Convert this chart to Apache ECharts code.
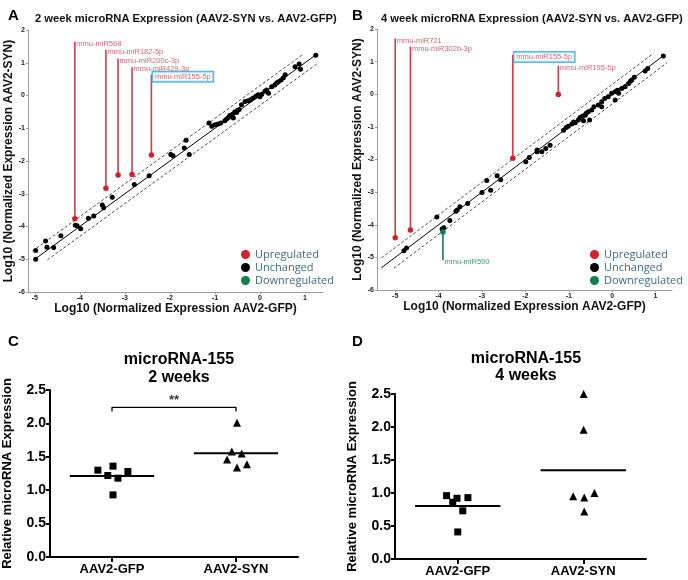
<!DOCTYPE html>
<html><head><meta charset="utf-8">
<script src="https://cdn.jsdelivr.net/npm/echarts@6/dist/echarts.min.js"></script>
<style>html,body{margin:0;padding:0;background:#fff}#c{width:688px;height:580px}</style>
</head><body><div id="c"></div>
<script>
// ---------- Panel A (2 weeks) ----------
const unchanged2wk = [[-4.98,-4.73],[-4.98,-5.0],[-4.76,-4.44],[-4.73,-4.63],[-4.58,-4.64],[-4.42,-4.28],[-4.1,-3.96],[-4.06,-3.98],[-3.98,-4.07],[-3.81,-3.75],[-3.69,-3.68],[-3.5,-3.34],[-3.47,-3.43],[-3.28,-3.11],[-2.79,-2.72],[-2.46,-2.45],[-1.98,-1.8],[-1.93,-1.84],[-1.64,-1.37],[-1.68,-1.6],[-1.57,-1.8],[-1.13,-0.84],[-1.07,-0.94],[-1.0,-0.89],[-0.93,-0.87],[-0.87,-0.84],[-0.78,-0.77],[-0.7,-0.67],[-0.67,-0.61],[-0.61,-0.57],[-0.56,-0.5],[-0.5,-0.46],[-0.46,-0.43],[-0.59,-0.69],[-0.41,-0.28],[-0.33,-0.18],[-0.26,-0.16],[-0.15,-0.08],[-0.09,-0.02],[-0.04,0.02],[0.04,0.04],[0.11,0.13],[0.15,0.17],[0.19,0.07],[0.26,0.27],[0.33,0.32],[0.41,0.42],[0.47,0.47],[0.52,0.54],[0.56,0.63],[0.78,0.88],[0.87,0.96],[0.9,0.8],[1.24,1.23],[-0.74,-0.72],[-0.52,-0.52],[-0.2,-0.12],[0.0,-0.04],[0.37,0.38]];
const upNames2wk = ['mmu-miR568','mmu-miR182-5p','mmu-miR200c-3p','mmu-miR429-3p','mmu-miR155-5p'];
const upX2wk = [-4.11,-3.42,-3.15,-2.84,-2.41];
const upY2wk = [-3.76,-2.83,-2.43,-2.41,-1.82];
const upLabelY2wk = [1.64,1.4,1.13,0.86,0.63];
const fit2wk = {solid:[-5.0,1.25], upper:[-5.05,0.95], lower:[-4.72,1.3]};

// ---------- Panel B (4 weeks) ----------
const unchanged4wk = [[-4.8,-4.8],[-4.74,-4.71],[-4.04,-3.76],[-3.92,-4.13],[-3.88,-4.09],[-3.74,-3.87],[-3.6,-3.59],[-3.57,-3.55],[-3.51,-3.45],[-3.33,-3.35],[-3.0,-3.01],[-2.89,-2.64],[-2.8,-2.94],[-2.65,-2.5],[-2.57,-2.62],[-1.99,-2.07],[-1.91,-1.94],[-1.73,-1.76],[-1.73,-1.71],[-1.62,-1.76],[-1.53,-1.66],[-1.43,-1.56],[-1.12,-1.1],[-1.06,-1.02],[-1.01,-0.98],[-0.93,-0.91],[-0.85,-0.87],[-0.78,-0.79],[-0.74,-0.71],[-0.68,-0.67],[-0.62,-0.64],[-0.66,-0.81],[-0.55,-0.54],[-0.47,-0.48],[-0.52,-0.79],[-0.42,-0.38],[-0.32,-0.33],[-0.24,-0.23],[-0.17,-0.13],[-0.09,-0.08],[-0.01,0.03],[0.07,0.08],[0.15,0.03],[0.22,0.18],[0.3,0.23],[0.38,0.33],[0.45,0.44],[0.51,0.52],[0.76,0.71],[0.82,0.79],[-0.24,-0.38],[0.07,-0.18],[1.18,1.17],[-0.89,-0.85],[-0.6,-0.58],[0.12,0.12],[0.42,0.4]];
const upNames4wk = ['mmu-miR721','mmu-miR302b-3p','mmu-miR155-5p','mmu-miR195-5p'];
const upX4wk = [-5.0,-4.65,-2.29,-1.24];
const upY4wk = [-4.4,-4.16,-1.96,-0.01];
const upLabelY4wk = [1.71,1.46,1.2,0.87];
const downNames4wk = ['mmu-miR590'];
const downX4wk = [-3.9];
const downY4wk = [-4.22];
const downLabelY4wk = [-5.09];
const fit4wk = {solid:[-5.32,1.2], upper:[-5.32,0.95], lower:[-5.03,1.27]};
const foldOffset = 0.3;
const highlighted = 'mmu-miR155-5p';

// ---------- Panels C / D ----------
const groups = ['AAV2-GFP','AAV2-SYN'];
const gfp2wk = [1.30,1.36,1.22,1.18,1.28,0.93];
const gfp2wkJitter = [-0.114,0.008,-0.034,0.048,0.128,0.008];
const syn2wk = [2.01,1.58,1.55,1.46,1.34,1.39];
const syn2wkJitter = [0.008,-0.034,0.046,-0.072,0.008,0.088];
const gfp4wk = [0.96,0.92,0.93,0.86,0.73,0.41];
const gfp4wkJitter = [-0.089,-0.006,0.081,-0.04,0.04,0];
const syn4wk = [2.5,1.96,0.95,0.93,1.0,0.72];
const syn4wkJitter = [0.003,0.003,-0.08,0.008,0.089,0.008];
const sigC = {y:2.24, drop:0.06, text:'**'};

const RED='#d2202c', GREEN='#12804c', LABRED='#c9404a', CYAN='#27a9dc';
const F='Liberation Sans, Arial, sans-serif';

const mean = a => a.reduce((s,v)=>s+v,0)/a.length;

function scatterAxes(gi, xmin, xmax){
  const common = {
    gridIndex: gi, type:'value', splitLine:{show:false},
    axisLine:{show:true, onZero:false, lineStyle:{color:'#9c9c9c', width:1}},
    axisTick:{show:true, length:2, lineStyle:{color:'#9c9c9c'}},
    axisLabel:{fontSize:7, fontWeight:'bold', color:'#222', fontFamily:F, margin:3},
    nameLocation:'middle',
    nameTextStyle:{fontSize:12, fontWeight:'bold', color:'#111', fontFamily:F}
  };
  const ticks=[-5,-4,-3,-2,-1,0,1];
  const x = Object.assign({}, common, {min:xmin, max:xmax, name:'Log10 (Normalized Expression AAV2-GFP)', nameGap:11,
    axisTick:Object.assign({}, common.axisTick, {customValues:ticks}),
    axisLabel:Object.assign({}, common.axisLabel, {customValues:ticks})});
  const y = Object.assign({}, common, {min:-6, max:2, interval:1, name:'Log10 (Normalized Expression AAV2-SYN)', nameGap:13});
  return [x,y];
}
function dotAxes(gi){
  const x = {gridIndex:gi, type:'value', min:-0.5, max:1.5, splitLine:{show:false},
    axisLine:{show:true, onZero:false, lineStyle:{color:'#000', width:2}},
    axisTick:{show:true, length:5, customValues:[0,1], lineStyle:{color:'#000', width:2}},
    axisLabel:{customValues:[0,1], formatter:v=>groups[Math.round(v)], fontSize:13, fontWeight:'bold', color:'#000', fontFamily:F, margin:6}};
  const y = {gridIndex:gi, type:'value', min:0, max:2.5, interval:0.5, splitLine:{show:false},
    axisLine:{show:true, onZero:false, lineStyle:{color:'#000', width:2}},
    axisTick:{show:true, length:4, lineStyle:{color:'#000', width:2}},
    axisLabel:{fontSize:14, fontWeight:'bold', color:'#000', fontFamily:F, margin:4, formatter:v=>v.toFixed(1)},
    name:'Relative microRNA Expression', nameLocation:'middle', nameGap:36,
    nameTextStyle:{fontSize:13, fontWeight:'bold', color:'#000', fontFamily:F}};
  return [x,y];
}

const [xa,ya] = scatterAxes(0,-5.15,1.4);
const [xb,yb] = scatterAxes(1,-5.42,1.38);
const [xc,yc] = dotAxes(2);
const [xd,yd] = dotAxes(3);

const series = [];
function fitLines(gi, fit){
  const mk = (r, off, dashed) => ({type:'line', xAxisIndex:gi, yAxisIndex:gi, silent:true, showSymbol:false, symbol:'none',
    data: r.map(x=>[x, x+off]), lineStyle:{color:'#000', width: dashed?0.7:1, type: dashed?[3,2]:'solid'}, z:1});
  series.push(mk(fit.solid,0,false), mk(fit.upper,foldOffset,true), mk(fit.lower,-foldOffset,true));
}
function stems(gi, names, xs, ys, tops, color){
  names.forEach((n,i)=>{
    series.push({type:'line', xAxisIndex:gi, yAxisIndex:gi, silent:true, showSymbol:false, symbol:'none',
      data:[[xs[i],ys[i]],[xs[i],tops[i]]], lineStyle:{color:color, width:1.6}, z:2});
  });
  series.push({type:'scatter', xAxisIndex:gi, yAxisIndex:gi, silent:true, symbolSize:1,
    itemStyle:{color:'rgba(0,0,0,0)'}, z:4,
    data: names.map((n,i)=>({value:[xs[i],tops[i]], name:n,
      label: n===highlighted ? {borderColor:CYAN, borderWidth:1.5, padding:[1,2,0,2], backgroundColor:'#fff'} : {}})),
    label:{show:true, position:'right', distance:1, offset:[0,2], formatter:p=>p.name, color:color, fontSize:7.5, fontFamily:F}});
}

fitLines(0, fit2wk);
fitLines(1, fit4wk);
stems(0, upNames2wk, upX2wk, upY2wk, upLabelY2wk, LABRED);
stems(1, upNames4wk, upX4wk, upY4wk, upLabelY4wk, LABRED);
stems(1, downNames4wk, downX4wk, downY4wk, downLabelY4wk, GREEN);

const dot = (c)=>({color:c, opacity:1});
series.push({type:'scatter', name:'Unchanged', xAxisIndex:0, yAxisIndex:0, data:unchanged2wk, symbolSize:5, itemStyle:dot('#000'), z:3});
series.push({type:'scatter', name:'Upregulated', xAxisIndex:0, yAxisIndex:0, data:upX2wk.map((x,i)=>[x,upY2wk[i]]), symbolSize:5.5, itemStyle:dot(RED), z:3});
series.push({type:'scatter', name:'Unchanged', xAxisIndex:1, yAxisIndex:1, data:unchanged4wk, symbolSize:5, itemStyle:dot('#000'), z:3});
series.push({type:'scatter', name:'Upregulated', xAxisIndex:1, yAxisIndex:1, data:upX4wk.map((x,i)=>[x,upY4wk[i]]), symbolSize:5.5, itemStyle:dot(RED), z:3});
series.push({type:'scatter', name:'Downregulated', xAxisIndex:1, yAxisIndex:1, data:downX4wk.map((x,i)=>[x,downY4wk[i]]), symbolSize:5.5, itemStyle:dot(GREEN), z:3});

function dotPanel(gi, gfp, gj, syn, sj){
  series.push({type:'scatter', xAxisIndex:gi, yAxisIndex:gi, symbol:'rect', symbolSize:7, itemStyle:dot('#000'), data:gfp.map((v,i)=>[0+gj[i],v])});
  series.push({type:'scatter', xAxisIndex:gi, yAxisIndex:gi, symbol:'triangle', symbolSize:8, itemStyle:dot('#000'), data:syn.map((v,i)=>[1+sj[i],v])});
  [gfp,syn].forEach((arr,k)=>{
    const m = mean(arr);
    series.push({type:'line', xAxisIndex:gi, yAxisIndex:gi, silent:true, showSymbol:false, symbol:'none',
      data:[[k-0.34,m],[k+0.34,m]], lineStyle:{color:'#000', width:2}});
  });
}
dotPanel(2, gfp2wk, gfp2wkJitter, syn2wk, syn2wkJitter);
dotPanel(3, gfp4wk, gfp4wkJitter, syn4wk, syn4wkJitter);
// significance bracket (panel C)
series.push({type:'line', xAxisIndex:2, yAxisIndex:2, silent:true, showSymbol:false, symbol:'none',
  data:[[0,sigC.y-sigC.drop],[0,sigC.y],[1,sigC.y],[1,sigC.y-sigC.drop]], lineStyle:{color:'#000', width:1.3}});
series.push({type:'scatter', xAxisIndex:2, yAxisIndex:2, silent:true, symbolSize:1, itemStyle:{color:'rgba(0,0,0,0)'},
  data:[{value:[0.5,sigC.y], name:sigC.text}],
  label:{show:true, position:'top', distance:0, formatter:p=>p.name, fontSize:13, fontWeight:'bold', color:'#000', fontFamily:F}});

const legendCommon = {orient:'vertical', icon:'circle', itemWidth:9, itemHeight:9, itemGap:2,
  data:['Upregulated','Unchanged','Downregulated'], selectedMode:false,
  itemStyle:{opacity:1},
  textStyle:{color:'#3b6a8a', fontSize:11, lineHeight:11, fontFamily:'Open Sans, sans-serif'}};

const option = {
  animation:false,
  backgroundColor:'#fff',
  title:[
    {text:'A', left:3, top:3, textStyle:{fontSize:15, fontWeight:'bold', fontFamily:F, color:'#000'}},
    {text:'B', left:347, top:3, textStyle:{fontSize:15, fontWeight:'bold', fontFamily:F, color:'#000'}},
    {text:'C', left:3, top:329, textStyle:{fontSize:15, fontWeight:'bold', fontFamily:F, color:'#000'}},
    {text:'D', left:347, top:329, textStyle:{fontSize:15, fontWeight:'bold', fontFamily:F, color:'#000'}},
    {text:'2 week microRNA Expression (AAV2-SYN vs. AAV2-GFP)', left:30, top:8, textStyle:{fontSize:11.2, fontWeight:'bold', fontFamily:F, color:'#111'}},
    {text:'4 week microRNA Expression (AAV2-SYN vs. AAV2-GFP)', left:376, top:8, textStyle:{fontSize:11.2, fontWeight:'bold', fontFamily:F, color:'#111'}},
    {text:'microRNA-155\n2 weeks', left:174, top:346, textAlign:'center', textStyle:{fontSize:16, fontWeight:'bold', fontFamily:F, color:'#000', lineHeight:18}},
    {text:'microRNA-155\n4 weeks', left:521, top:345, textAlign:'center', textStyle:{fontSize:16, fontWeight:'bold', fontFamily:F, color:'#000', lineHeight:17}}
  ],
  legend:[
    Object.assign({left:236, top:244}, legendCommon),
    Object.assign({left:585, top:244}, legendCommon)
  ],
  grid:[
    {left:28, top:30, width:295, height:262},
    {left:377, top:29, width:295, height:261},
    {left:49, top:390, width:249, height:167},
    {left:395, top:394, width:251, height:165}
  ],
  xAxis:[xa,xb,xc,xd],
  yAxis:[ya,yb,yc,yd],
  series:series
};
const chart = echarts.init(document.getElementById('c'), null, {renderer:'canvas'});
chart.setOption(option);
</script></body></html>
